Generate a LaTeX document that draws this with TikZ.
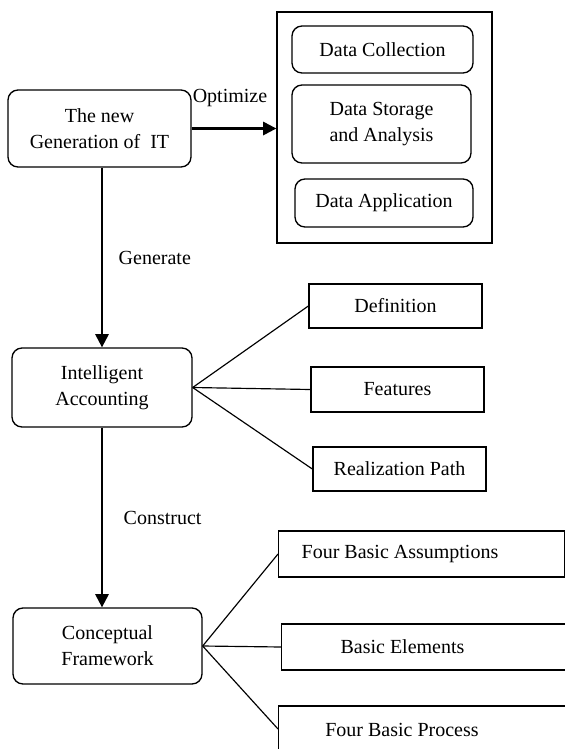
\documentclass[tikz,border=0pt]{standalone}
\usepackage{fontspec}
\setmainfont{Liberation Serif}
\usetikzlibrary{arrows.meta}

\begin{document}
\begin{tikzpicture}[x=0.6pt,y=-0.6pt,
  every node/.style={font=\fontsize{12}{15.5}\selectfont, align=center},
  rbox/.style={draw, rounded corners=6pt, line width=0.8pt, inner sep=0pt},
  leaf/.style={draw, line width=0.8pt, inner sep=0pt},
  flow/.style={line width=1.4pt, -{Triangle[length=8pt,width=8pt]}},
  link/.style={line width=0.7pt}]
  \useasboundingbox (0,0) rectangle (565,749);
  % the new generation of IT and the data chain
  \node[rbox, minimum width=109.8pt, minimum height=46.2pt] (gen) at (99.5,128.5) {The new\\Generation of~~IT};
  \node[leaf, minimum width=129pt, minimum height=138.6pt] (data) at (384.5,127.5) {};
  \node[rbox, minimum width=108.6pt, minimum height=28.2pt] (coll) at (382.5,49.5) {Data Collection};
  \node[rbox, minimum width=107.4pt, minimum height=46.8pt] (stor) at (381.5,124) {Data Storage\\and Analysis};
  \node[rbox, minimum width=106.8pt, minimum height=28.8pt] (appl) at (384,203) {Data Application};
  \node (opt) at (230,98) {Optimize};
  \draw[flow] (gen.east) -- (gen.east -| data.west);
  % intelligent accounting
  \node[rbox, minimum width=108pt, minimum height=47.4pt] (intel) at (102,387.5) {Intelligent\\Accounting};
  \node[leaf, minimum width=103.8pt, minimum height=26.4pt] (def)  at (395.5,306) {Definition};
  \node[leaf, minimum width=103.8pt, minimum height=27pt]   (feat) at (397.5,389.5) {Features};
  \node[leaf, minimum width=103.8pt, minimum height=26.4pt] (real) at (399.5,469) {Realization Path};
  \draw[flow] (gen.south -| intel.north) -- node[right=6pt] (genr) {Generate} (intel.north);
  \foreach \n in {def,feat,real}
    \draw[link] (intel.east) -- (\n.west);
  % conceptual framework
  \node[rbox, minimum width=113.4pt, minimum height=45.6pt] (concept) at (107.5,646) {Conceptual\\Framework};
  \node[leaf, minimum width=171.6pt, minimum height=27.6pt, anchor=west] (assum) at (278,554) {};
  \node[leaf, minimum width=192pt, minimum height=27.6pt, anchor=west]   (elem)  at (281,647) {};
  \node[leaf, minimum width=192pt, minimum height=27.6pt, anchor=west]   (proc)  at (278,729) {};
  \node (assumtext) at (400,554) {Four Basic Assumptions};
  \node (elemtext)  at (402.5,647) {Basic Elements};
  \node (proctext)  at (402,730) {Four Basic Process};
  \draw[flow] (intel.south) -- node[right=9pt] (cons) {Construct} (intel.south |- concept.north);
  \foreach \n in {assum,elem,proc}
    \draw[link] (concept.east) -- (\n.west);
\end{tikzpicture}
\end{document}
